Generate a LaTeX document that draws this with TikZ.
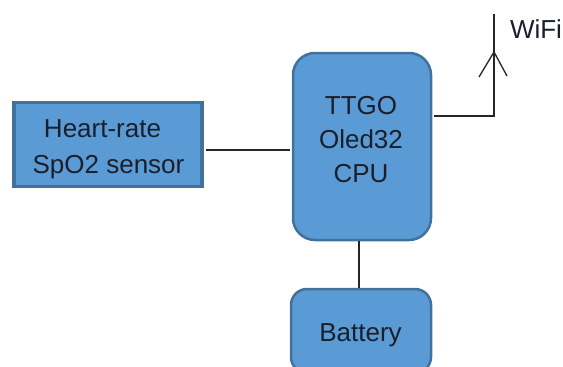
\documentclass[tikz,border=0pt]{standalone}
\usepackage{fontspec}
\setmainfont{Liberation Sans}
\definecolor{boxfill}{HTML}{5B9BD5}
\definecolor{boxline}{HTML}{41719C}
\definecolor{boxtext}{HTML}{1A1F2B}
\tikzset{
  block/.style={draw=boxline,fill=boxfill,line width=2.5pt,inner sep=0pt},
  caption/.style={text=boxtext,align=center,inner sep=0pt,font=\fontsize{26}{#1}\selectfont},
  caption/.default=34,
  wire/.style={line width=1.3pt,black!85}
}

\begin{document}
\begin{tikzpicture}[x=1pt,y=-1pt]
  \useasboundingbox (0,0) rectangle (563,367);
  \node[block,line width=3.5pt,minimum width=188pt,minimum height=84pt] (sensor) at (108,144.5) {};
  \node[block,rounded corners=22pt,minimum width=138pt,minimum height=187pt] (cpu) at (362,146.5) {};
  \node[block,rounded corners=16pt,minimum width=140pt,minimum height=84pt] (battery) at (361,331) {};

  \node[caption=36] (sensortext) at (108.5,149) {Heart-rate\hspace*{12pt}\\SpO2 sensor};
  \node[caption] (cputext) at (361,140) {TTGO\\Oled32\\CPU};
  \node[caption] (batterytext) at (360.5,335) {Battery};
  \node[caption] (wifi) at (536,29) {WiFi};

  \coordinate (sensorin) at (290,150);
  \coordinate (uplink) at (434,116);
  \coordinate (corner) at (494,116);
  \coordinate (mast) at (494,14);
  \coordinate (feed) at (494,52);
  \coordinate (legl) at (479,77);
  \coordinate (legr) at (507,76);

  \draw[wire] ([xshift=2pt]sensor.east |- sensorin) -- (sensorin);
  \draw[wire] (cpu.south -| 359,0) -- (battery.north -| 359,0);
  \draw[wire] (uplink) -- (corner) -- (mast);
  \draw[wire] (legl) -- (feed) -- (legr);
\end{tikzpicture}
\end{document}
